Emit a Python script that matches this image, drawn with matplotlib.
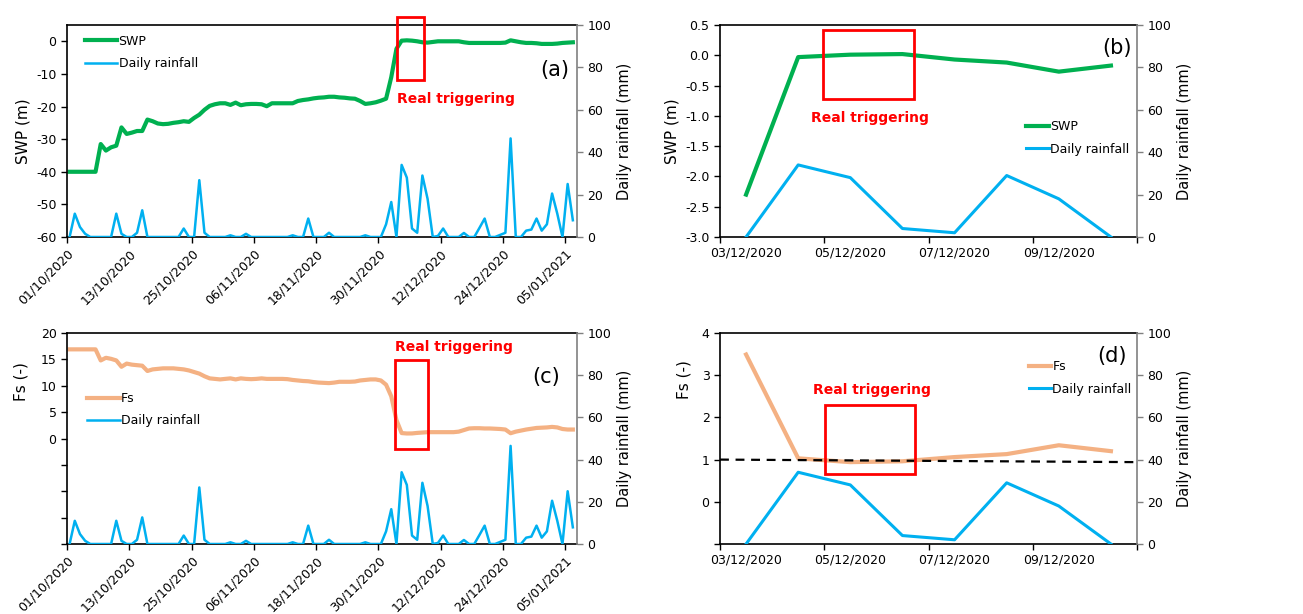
import matplotlib.pyplot as plt
import matplotlib.dates as mdates
import numpy as np
import pandas as pd
from matplotlib.patches import Rectangle
from matplotlib.ticker import FuncFormatter, FixedLocator

plt.rcParams["font.family"] = ["DejaVu Sans"]
plt.rcParams["axes.unicode_minus"] = False

# daily series from 01/10/2020 (98 days)
start = pd.Timestamp("2020-10-01")

swp_daily = [
    -40, -40, -40, -40, -40, -40, -31.5, -33.5, -32.5, -32,
    -26.4, -28.4, -28, -27.5, -27.5, -24, -24.5, -25.2, -25.4, -25.3,
    -25, -24.8, -24.5, -24.7, -23.5, -22.5, -21, -19.8, -19.3, -19,
    -19, -19.5, -18.8, -19.6, -19.3, -19.2, -19.2, -19.3, -19.9, -19,
    -19, -19, -19, -19, -18.3, -18, -17.8, -17.5, -17.3, -17.2,
    -17, -17, -17.2, -17.3, -17.5, -17.6, -18.3, -19.2, -19, -18.7,
    -18.2, -17.6, -11, -2.3, 0.2, 0.3, 0.2, 0, -0.3, -0.4,
    -0.2, 0, 0, 0, 0, 0, -0.3, -0.5, -0.5, -0.5,
    -0.5, -0.5, -0.5, -0.5, -0.4, 0.3, 0, -0.3, -0.5, -0.5,
    -0.6, -0.8, -0.8, -0.8, -0.7, -0.5, -0.4, -0.3,
]

fs_daily = [
    16.9, 16.9, 16.9, 16.9, 16.9, 16.9, 14.8, 15.3, 15.1, 14.8,
    13.6, 14.2, 14.0, 13.9, 13.8, 12.8, 13.1, 13.2, 13.3, 13.3,
    13.3, 13.2, 13.1, 12.9, 12.6, 12.3, 11.8, 11.4, 11.3, 11.2,
    11.3, 11.4, 11.2, 11.4, 11.3, 11.25, 11.3, 11.4, 11.3, 11.3,
    11.3, 11.3, 11.25, 11.1, 11.0, 10.9, 10.85, 10.7, 10.6, 10.55,
    10.5, 10.6, 10.75, 10.75, 10.75, 10.8, 11.0, 11.1, 11.2, 11.2,
    11.0, 10.2, 8.0, 3.49, 1.03, 0.95, 0.96, 1.06, 1.13, 1.2,
    1.2, 1.2, 1.2, 1.2, 1.2, 1.3, 1.6, 1.9, 1.95, 1.95,
    1.9, 1.9, 1.85, 1.8, 1.7, 1.0, 1.3, 1.5, 1.7, 1.85,
    2.0, 2.05, 2.1, 2.2, 2.1, 1.8, 1.7, 1.7,
]

rain_daily = [
    0, 11, 4.7, 1.5, 0, 0, 0, 0, 0, 11,
    1.5, 0, 0, 2, 12.6, 0, 0, 0, 0, 0,
    0, 0, 4, 0, 0, 26.8, 2, 0, 0, 0,
    0, 0.8, 0, 0, 1.5, 0, 0, 0, 0, 0,
    0, 0, 0, 0.8, 0, 0, 8.7, 0, 0, 0,
    2, 0, 0, 0, 0, 0, 0, 0.8, 0, 0,
    0, 6, 16.5, 0, 34, 28, 4, 2, 29, 18,
    0, 0.5, 4, 0, 0, 0, 1.9, 0, 0, 4.3,
    8.7, 0, 0, 1, 2, 46.5, 0, 0, 3, 3.5,
    8.7, 3, 6, 20.5, 11, 0, 25, 7.9,
]

# 03/12 - 10/12/2020 zoom
zoom_days = ["03/12/2020", "04/12/2020", "05/12/2020", "06/12/2020",
             "07/12/2020", "08/12/2020", "09/12/2020", "10/12/2020"]
swp_zoom = [-2.30, -0.03, 0.01, 0.02, -0.07, -0.12, -0.27, -0.17]
fs_zoom = [3.49, 1.03, 0.94, 0.96, 1.06, 1.13, 1.34, 1.20]
rain_zoom = [0, 34, 28, 4, 2, 29, 18, 0]
fs_threshold = [1.0, 0.94]

GREEN = "#00B050"
BLUE = "#00B0F0"
ORANGE = "#F4B183"
RED = "#FF0000"
GRAY = "#808080"

fig = plt.figure(figsize=(13.03, 6.14), dpi=100)
W, H = 1303, 614


def box(left, top, right, bottom):
    return [left / W, 1 - bottom / H, (right - left) / W, (bottom - top) / H]


def style_axes(ax, tw):
    for side in ["top", "bottom", "left"]:
        ax.spines[side].set_linewidth(1.2)
    ax.spines["right"].set_visible(False)
    for side in ["top", "bottom", "left"]:
        tw.spines[side].set_visible(False)
    tw.spines["right"].set_color(GRAY)
    tw.spines["right"].set_linewidth(1.2)
    ax.tick_params(direction="out", length=4, width=1, labelsize=9)
    tw.tick_params(direction="out", length=4, width=1, color=GRAY, labelsize=9)
    tw.set_ylim(0, 100)
    tw.set_yticks(np.arange(0, 101, 20))
    tw.set_ylabel("Daily rainfall (mm)", fontsize=10.5)


def day_num(d):
    return mdates.date2num(start + pd.Timedelta(days=d))


def add_legend(tw, handles, x, y, hl=2.6):
    tw.legend(handles=handles, loc="upper left", bbox_to_anchor=(x, y),
              frameon=False, fontsize=9, handlelength=hl, handletextpad=0.1,
              labelspacing=0.75, borderpad=0, borderaxespad=0)


dates = start + pd.to_timedelta(np.arange(len(rain_daily)) + 0.5, unit="D")
long_ticks = pd.date_range(start, periods=9, freq="12D")
xlim_long = (start, start + pd.Timedelta(days=98.3))

nonneg = FuncFormatter(lambda v, p: f"{v:g}" if v >= 0 else "")

# (a)
ax = fig.add_axes(box(67, 25, 577, 237))
tw = ax.twinx()
l1, = ax.plot(dates, swp_daily, color=GREEN, lw=3, label="SWP")
l2, = tw.plot(dates, rain_daily, color=BLUE, lw=1.8, label="Daily rainfall")
ax.set_ylim(-60, 5)
ax.set_yticks(np.arange(-60, 1, 10))
ax.set_xlim(xlim_long)
ax.set_xticks(long_ticks)
ax.xaxis.set_major_formatter(mdates.DateFormatter("%d/%m/%Y"))
plt.setp(ax.get_xticklabels(), rotation=45, ha="right", rotation_mode="anchor")
ax.set_ylabel("SWP (m)", fontsize=11)
style_axes(ax, tw)
add_legend(tw, [l1, l2], 0.035, 0.955)
ax.add_patch(Rectangle((day_num(63.6), -11.8), day_num(68.9) - day_num(63.6), 19.2,
                       fill=False, ec=RED, lw=2, clip_on=False, zorder=5))
ax.text(day_num(75), -17.6, "Real triggering", color=RED, fontsize=10,
        fontweight="bold", ha="center", va="center")
ax.text(0.957, 0.79, "(a)", transform=ax.transAxes, fontsize=15,
        ha="center", va="center")

# (c)
ax = fig.add_axes(box(67, 333, 577, 544))
tw = ax.twinx()
l1, = ax.plot(dates, fs_daily, color=ORANGE, lw=3, label="Fs")
l2, = tw.plot(dates, rain_daily, color=BLUE, lw=1.8, label="Daily rainfall")
ax.set_ylim(-20, 20)
ax.set_yticks(np.arange(-20, 21, 5))
ax.yaxis.set_major_formatter(nonneg)
ax.set_xlim(xlim_long)
ax.set_xticks(long_ticks)
ax.xaxis.set_major_formatter(mdates.DateFormatter("%d/%m/%Y"))
plt.setp(ax.get_xticklabels(), rotation=45, ha="right", rotation_mode="anchor")
ax.set_ylabel("Fs (-)", fontsize=11)
ax.yaxis.set_label_coords(-0.075, 0.77)
style_axes(ax, tw)
add_legend(tw, [l1, l2], 0.04, 0.72)
ax.add_patch(Rectangle((day_num(63.3), -2.0), day_num(69.5) - day_num(63.3), 16.96,
                       fill=False, ec=RED, lw=2, clip_on=False, zorder=5))
ax.text(day_num(74.5), 17.35, "Real triggering", color=RED, fontsize=10,
        fontweight="bold", ha="center", va="center")
ax.text(0.94, 0.79, "(c)", transform=ax.transAxes, fontsize=15,
        ha="center", va="center")

# (b) and (d)
xc = np.arange(len(zoom_days))


def zoom_xaxis(ax):
    ax.set_xlim(-0.5, len(zoom_days) - 0.5)
    ax.xaxis.set_major_locator(FixedLocator(np.arange(-0.5, len(zoom_days), 2)))
    ax.xaxis.set_major_formatter(FuncFormatter(lambda v, p: ""))
    ax.xaxis.set_minor_locator(FixedLocator(xc[::2]))
    ax.set_xticklabels(zoom_days[::2], minor=True)
    ax.tick_params(axis="x", which="minor", length=0, labelsize=9, pad=7)


ax = fig.add_axes(box(720, 25, 1137, 237))
tw = ax.twinx()
l1, = ax.plot(xc, swp_zoom, color=GREEN, lw=3, label="SWP")
l2, = tw.plot(xc, rain_zoom, color=BLUE, lw=2.2, label="Daily rainfall")
ax.set_ylim(-3.0, 0.5)
ax.set_yticks(np.arange(-3.0, 0.51, 0.5))
ax.yaxis.set_major_formatter(FuncFormatter(lambda v, p: f"{v:.1f}"))
zoom_xaxis(ax)
ax.set_ylabel("SWP (m)", fontsize=11)
style_axes(ax, tw)
add_legend(tw, [l1, l2], 0.735, 0.55, hl=1.8)
ax.add_patch(Rectangle((1.48, -0.724), 1.74, 1.141, fill=False, ec=RED, lw=2,
                       zorder=5))
ax.text(2.37, -1.04, "Real triggering", color=RED, fontsize=10,
        fontweight="bold", ha="center", va="center")
ax.text(0.953, 0.89, "(b)", transform=ax.transAxes, fontsize=15,
        ha="center", va="center")

ax = fig.add_axes(box(720, 333, 1137, 544))
tw = ax.twinx()
l1, = ax.plot(xc, fs_zoom, color=ORANGE, lw=3, label="Fs")
l2, = tw.plot(xc, rain_zoom, color=BLUE, lw=2.2, label="Daily rainfall")
ax.plot([-0.5, len(zoom_days) - 0.5], fs_threshold,
        color="black", ls="--", lw=1.6, dashes=(4, 3))
ax.set_ylim(-1, 4)
ax.set_yticks(np.arange(-1, 5, 1))
ax.yaxis.set_major_formatter(nonneg)
zoom_xaxis(ax)
ax.set_ylabel("Fs (-)", fontsize=11)
ax.yaxis.set_label_coords(-0.068, 0.78)
style_axes(ax, tw)
add_legend(tw, [l1, l2], 0.74, 0.87, hl=1.8)
ax.add_patch(Rectangle((1.52, 0.66), 1.72, 1.64, fill=False, ec=RED, lw=2,
                       zorder=5))
ax.text(2.41, 2.66, "Real triggering", color=RED, fontsize=10,
        fontweight="bold", ha="center", va="center")
ax.text(0.94, 0.889, "(d)", transform=ax.transAxes, fontsize=15,
        ha="center", va="center")

fig.savefig("out.png", dpi=100)
